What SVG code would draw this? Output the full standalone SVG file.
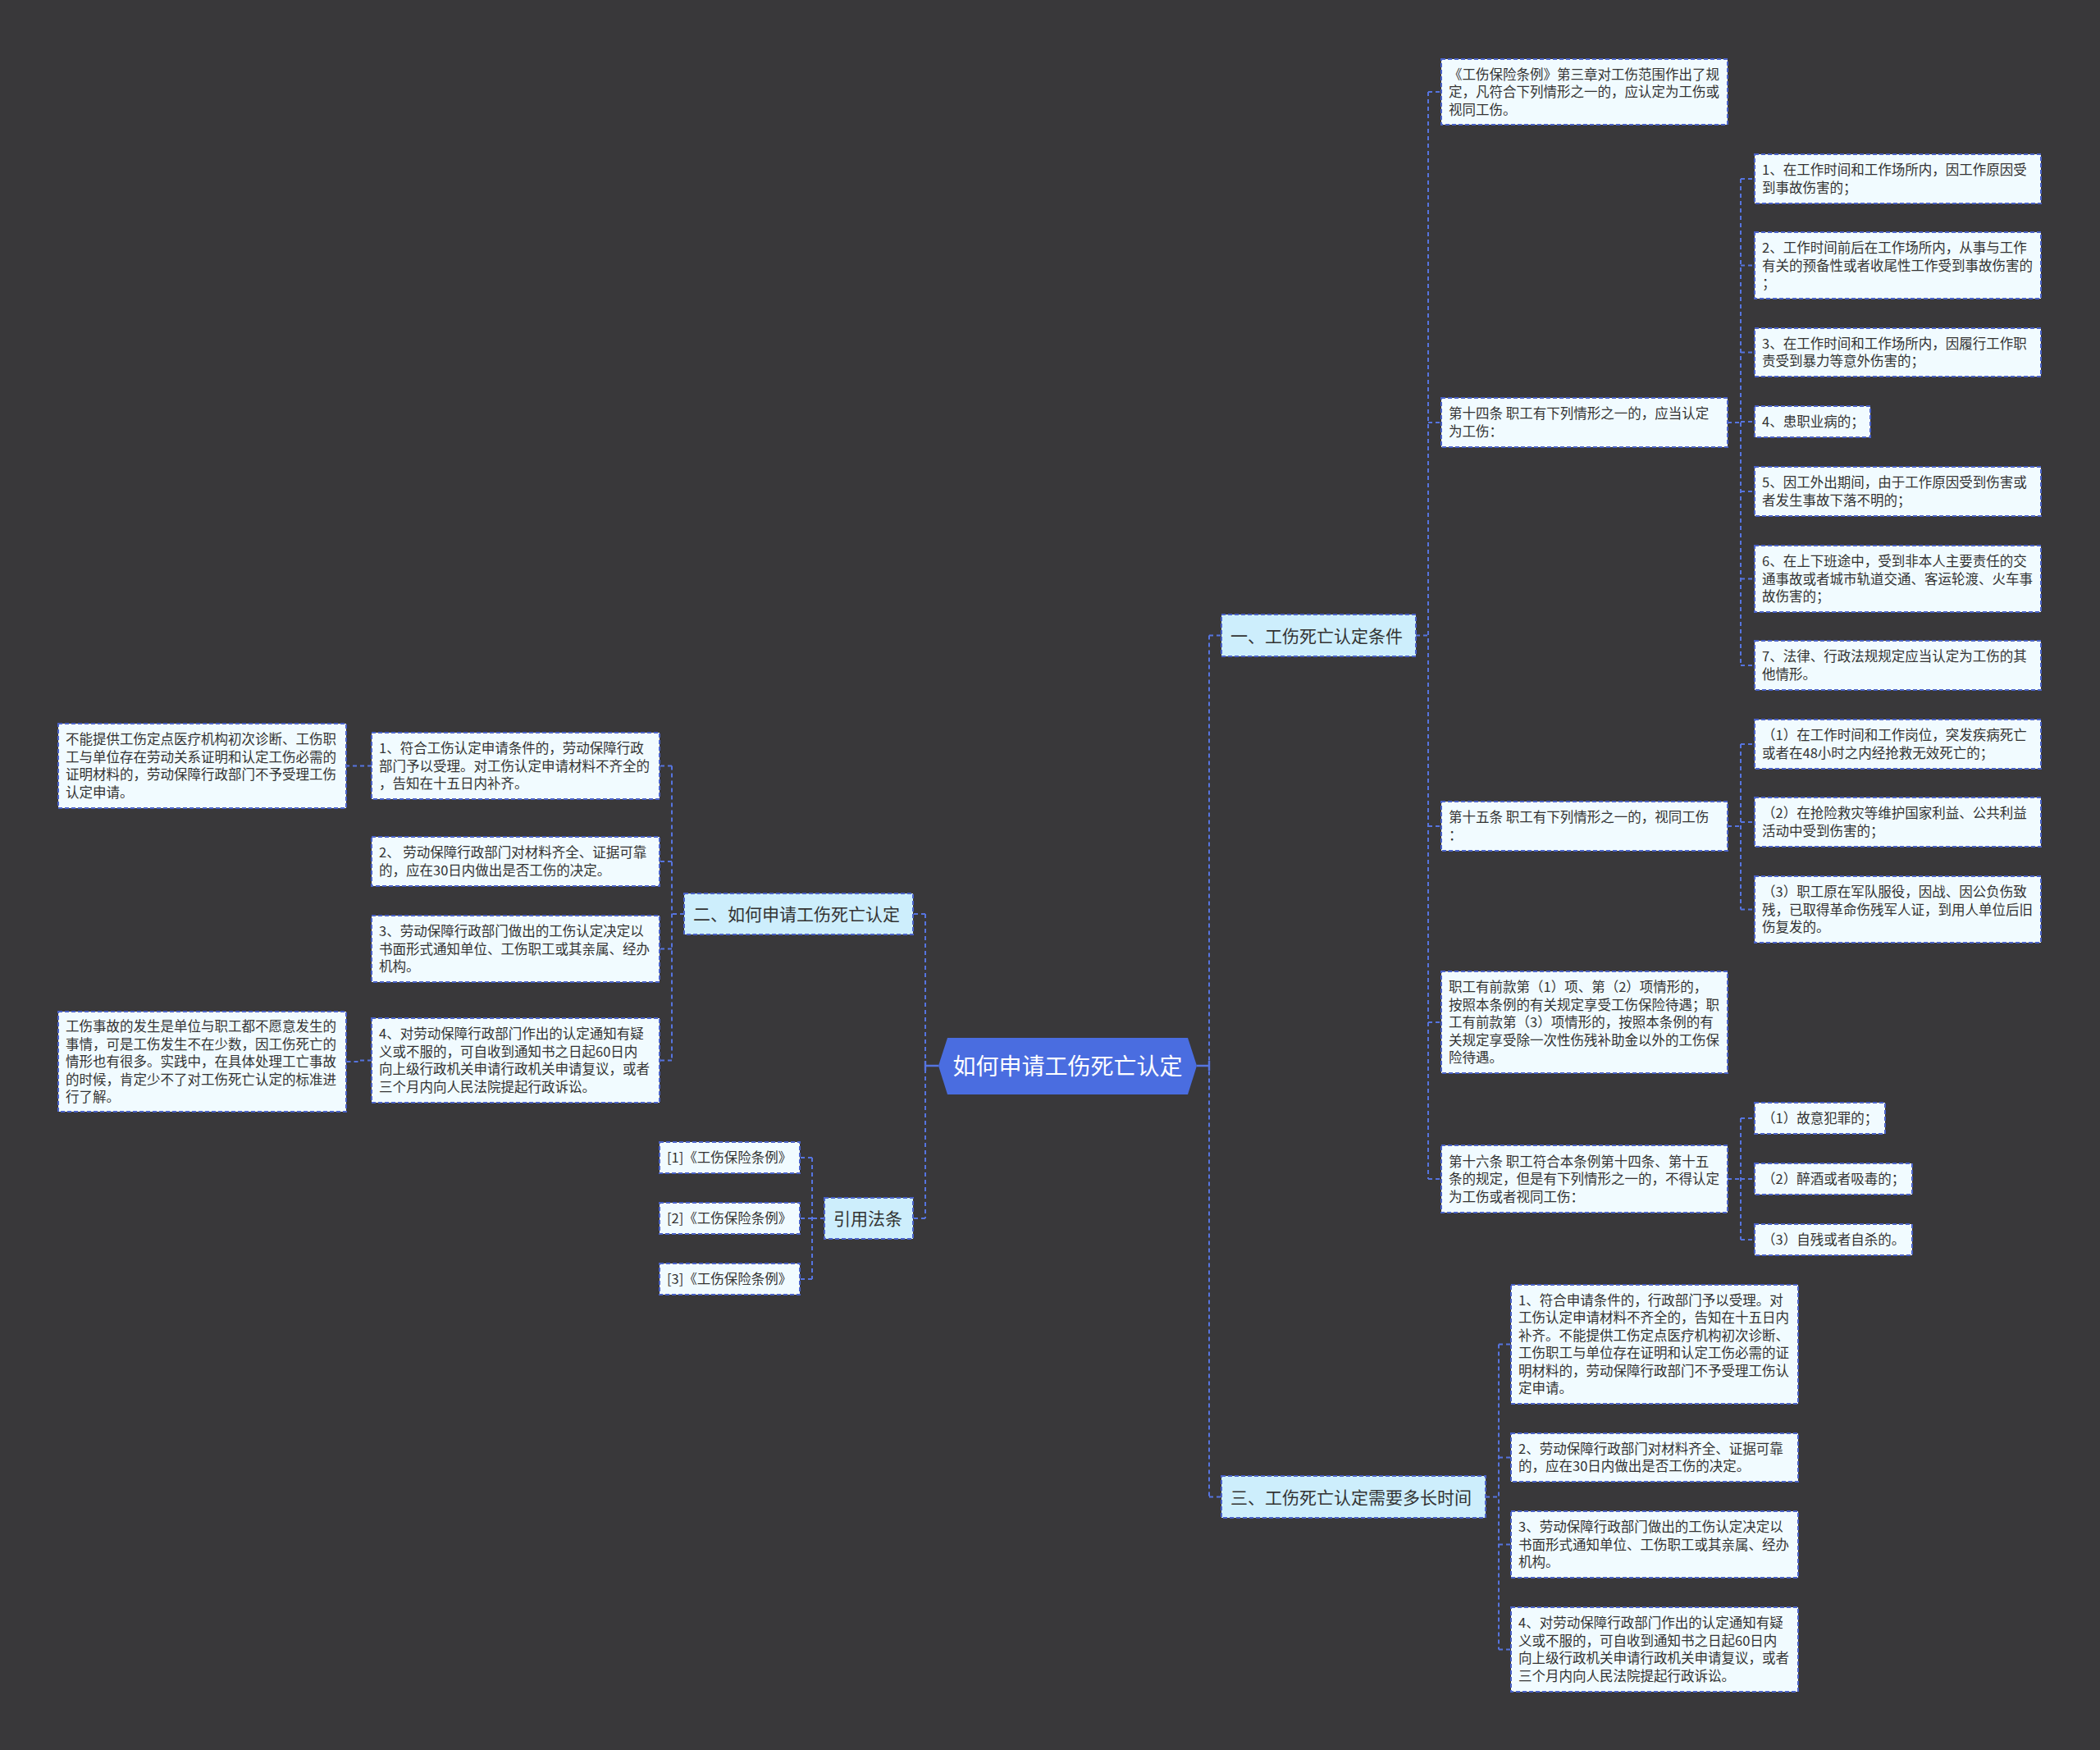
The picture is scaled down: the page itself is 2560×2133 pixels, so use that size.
<svg xmlns="http://www.w3.org/2000/svg" width="2560" height="2133" viewBox="0 0 2560 2133">
<style>
.bg{fill:#39383a}
.box{fill:#f1fbff;stroke:#4a62c8;stroke-width:2;stroke-dasharray:5 3}
.l1{fill:#cdeefc;stroke:#4a62c8;stroke-width:2;stroke-dasharray:5 3}
.root{fill:#4a6de0}
.t{font-family:"Noto Sans CJK SC","Noto Sans",sans-serif;font-size:16.5px;fill:#333}
.t1{font-family:"Noto Sans CJK SC","Noto Sans",sans-serif;font-size:21px;fill:#333}
.tr{font-family:"Noto Sans CJK SC","Noto Sans",sans-serif;font-size:28px;fill:#fff}
.ln{fill:none;stroke:#5674e0;stroke-width:2;stroke-dasharray:5 4}
.sl{fill:none;stroke:#5674e0;stroke-width:2.4}
</style>
<rect class="bg" x="0" y="0" width="2560" height="2133"/>

<g id="connectors">
  <path class="sl" d="M1459 1299 H1474 M1474 1293 V1305"/>
  <path class="sl" d="M1144 1299 H1128 M1128 1293 V1305"/>
  <path class="ln" d="M1474 774.5 V1824.5 M1474 774.5 H1489 M1474 1824.5 H1489"/>
  <path class="ln" d="M1128 1114 V1485 M1128 1114 H1113 M1128 1485 H1113"/>
  <path class="ln" d="M1726 774.5 H1741 M1741 112 V1437 M1741 112 H1757 M1741 515 H1757 M1741 1007 H1757 M1741 1246 H1757 M1741 1437 H1757"/>
  <path class="ln" d="M2106 515 H2122 M2122 218 V811 M2122 218 H2139 M2122 323.5 H2139 M2122 429.5 H2139 M2122 514 H2139 M2122 599 H2139 M2122 705.5 H2139 M2122 811 H2139"/>
  <path class="ln" d="M2106 1007 H2122 M2122 907 V1108.5 M2122 907 H2139 M2122 1002 H2139 M2122 1108.5 H2139"/>
  <path class="ln" d="M2106 1437 H2122 M2122 1363 V1511 M2122 1363 H2139 M2122 1437 H2139 M2122 1511 H2139"/>
  <path class="ln" d="M1811 1824.5 H1827 M1827 1638.5 V2010.5 M1827 1638.5 H1842 M1827 1776.5 H1842 M1827 1882.5 H1842 M1827 2010.5 H1842"/>
  <path class="ln" d="M834 1114 H819 M819 933.5 V1292.5 M819 933.5 H804 M819 1050 H804 M819 1156.5 H804 M819 1292.5 H804"/>
  <path class="ln" d="M453 933.5 H422"/>
  <path class="ln" d="M453 1292.5 H437 V1294 H422"/>
  <path class="ln" d="M1005 1485 H990 M990 1411 V1559 M990 1411 H975 M990 1485 H975 M990 1559 H975"/>
</g>

<g id="root">
  <polygon class="root" points="1144,1299 1155,1265 1448,1265 1459,1299 1448,1334 1155,1334"/>
  <text class="tr" x="1301.5" y="1309.5" text-anchor="middle">如何申请工伤死亡认定</text>
</g>

<g id="n1">
  <rect class="l1" x="1489" y="749" width="237" height="51"/>
  <text class="t1" x="1500" y="782.5">一、工伤死亡认定条件</text>
</g>
<g id="n2">
  <rect class="l1" x="834" y="1089" width="279" height="50"/>
  <text class="t1" x="845" y="1122">二、如何申请工伤死亡认定</text>
</g>
<g id="n3">
  <rect class="l1" x="1005" y="1460" width="108" height="50"/>
  <text class="t1" x="1016" y="1493">引用法条</text>
</g>
<g id="n4">
  <rect class="l1" x="1489" y="1799" width="322" height="51"/>
  <text class="t1" x="1500" y="1832.5">三、工伤死亡认定需要多长时间</text>
</g>

<g id="a0">
  <rect class="box" x="1757" y="72" width="349" height="80"/>
  <text class="t"><tspan x="1766" y="96.5">《工伤保险条例》第三章对工伤范围作出了规</tspan><tspan x="1766" y="118">定，凡符合下列情形之一的，应认定为工伤或</tspan><tspan x="1766" y="139.5">视同工伤。</tspan></text>
</g>
<g id="a14">
  <rect class="box" x="1757" y="485" width="349" height="60"/>
  <text class="t"><tspan x="1766" y="510.3">第十四条 职工有下列情形之一的，应当认定</tspan><tspan x="1766" y="531.8">为工伤：</tspan></text>
</g>
<g id="c1">
  <rect class="box" x="2139" y="188" width="349" height="60"/>
  <text class="t"><tspan x="2148" y="213.3">1、在工作时间和工作场所内，因工作原因受</tspan><tspan x="2148" y="234.8">到事故伤害的；</tspan></text>
</g>
<g id="c2">
  <rect class="box" x="2139" y="283" width="349" height="81"/>
  <text class="t"><tspan x="2148" y="308">2、工作时间前后在工作场所内，从事与工作</tspan><tspan x="2148" y="329.5">有关的预备性或者收尾性工作受到事故伤害的</tspan><tspan x="2148" y="351">；</tspan></text>
</g>
<g id="c3">
  <rect class="box" x="2139" y="400" width="349" height="59"/>
  <text class="t"><tspan x="2148" y="424.8">3、在工作时间和工作场所内，因履行工作职</tspan><tspan x="2148" y="446.3">责受到暴力等意外伤害的；</tspan></text>
</g>
<g id="c4">
  <rect class="box" x="2139" y="495" width="141" height="38"/>
  <text class="t"><tspan x="2148" y="520">4、患职业病的；</tspan></text>
</g>
<g id="c5">
  <rect class="box" x="2139" y="569" width="349" height="60"/>
  <text class="t"><tspan x="2148" y="594.3">5、因工外出期间，由于工作原因受到伤害或</tspan><tspan x="2148" y="615.8">者发生事故下落不明的；</tspan></text>
</g>
<g id="c6">
  <rect class="box" x="2139" y="665" width="349" height="81"/>
  <text class="t"><tspan x="2148" y="690">6、在上下班途中，受到非本人主要责任的交</tspan><tspan x="2148" y="711.5">通事故或者城市轨道交通、客运轮渡、火车事</tspan><tspan x="2148" y="733">故伤害的；</tspan></text>
</g>
<g id="c7">
  <rect class="box" x="2139" y="781" width="349" height="60"/>
  <text class="t"><tspan x="2148" y="806.3">7、法律、行政法规规定应当认定为工伤的其</tspan><tspan x="2148" y="827.8">他情形。</tspan></text>
</g>
<g id="a15">
  <rect class="box" x="1757" y="977" width="349" height="60"/>
  <text class="t"><tspan x="1766" y="1002.3">第十五条 职工有下列情形之一的，视同工伤</tspan><tspan x="1766" y="1023.8">：</tspan></text>
</g>
<g id="d1">
  <rect class="box" x="2139" y="877" width="349" height="60"/>
  <text class="t"><tspan x="2148" y="902.3">（1）在工作时间和工作岗位，突发疾病死亡</tspan><tspan x="2148" y="923.8">或者在48小时之内经抢救无效死亡的；</tspan></text>
</g>
<g id="d2">
  <rect class="box" x="2139" y="972" width="349" height="60"/>
  <text class="t"><tspan x="2148" y="997.3">（2）在抢险救灾等维护国家利益、公共利益</tspan><tspan x="2148" y="1018.8">活动中受到伤害的；</tspan></text>
</g>
<g id="d3">
  <rect class="box" x="2139" y="1068" width="349" height="81"/>
  <text class="t"><tspan x="2148" y="1093">（3）职工原在军队服役，因战、因公负伤致</tspan><tspan x="2148" y="1114.5">残，已取得革命伤残军人证，到用人单位后旧</tspan><tspan x="2148" y="1136">伤复发的。</tspan></text>
</g>
<g id="a15b">
  <rect class="box" x="1757" y="1184" width="349" height="124"/>
  <text class="t"><tspan x="1766" y="1209">职工有前款第（1）项、第（2）项情形的，</tspan><tspan x="1766" y="1230.5">按照本条例的有关规定享受工伤保险待遇；职</tspan><tspan x="1766" y="1252">工有前款第（3）项情形的，按照本条例的有</tspan><tspan x="1766" y="1273.5">关规定享受除一次性伤残补助金以外的工伤保</tspan><tspan x="1766" y="1295">险待遇。</tspan></text>
</g>
<g id="a16">
  <rect class="box" x="1757" y="1396" width="349" height="82"/>
  <text class="t"><tspan x="1766" y="1421.5">第十六条 职工符合本条例第十四条、第十五</tspan><tspan x="1766" y="1443">条的规定，但是有下列情形之一的，不得认定</tspan><tspan x="1766" y="1464.5">为工伤或者视同工伤：</tspan></text>
</g>
<g id="e1">
  <rect class="box" x="2139" y="1344" width="159" height="38"/>
  <text class="t"><tspan x="2148" y="1369">（1）故意犯罪的；</tspan></text>
</g>
<g id="e2">
  <rect class="box" x="2139" y="1418" width="192" height="38"/>
  <text class="t"><tspan x="2148" y="1443">（2）醉酒或者吸毒的；</tspan></text>
</g>
<g id="e3">
  <rect class="box" x="2139" y="1492" width="192" height="38"/>
  <text class="t"><tspan x="2148" y="1517">（3）自残或者自杀的。</tspan></text>
</g>

<g id="f1">
  <rect class="box" x="1842" y="1566" width="350" height="145"/>
  <text class="t"><tspan x="1851" y="1590.8">1、符合申请条件的，行政部门予以受理。对</tspan><tspan x="1851" y="1612.3">工伤认定申请材料不齐全的，告知在十五日内</tspan><tspan x="1851" y="1633.8">补齐。不能提供工伤定点医疗机构初次诊断、</tspan><tspan x="1851" y="1655.3">工伤职工与单位存在证明和认定工伤必需的证</tspan><tspan x="1851" y="1676.8">明材料的，劳动保障行政部门不予受理工伤认</tspan><tspan x="1851" y="1698.3">定申请。</tspan></text>
</g>
<g id="f2">
  <rect class="box" x="1842" y="1747" width="350" height="59"/>
  <text class="t"><tspan x="1851" y="1771.8">2、劳动保障行政部门对材料齐全、证据可靠</tspan><tspan x="1851" y="1793.3">的，应在30日内做出是否工伤的决定。</tspan></text>
</g>
<g id="f3">
  <rect class="box" x="1842" y="1842" width="350" height="81"/>
  <text class="t"><tspan x="1851" y="1867">3、劳动保障行政部门做出的工伤认定决定以</tspan><tspan x="1851" y="1888.5">书面形式通知单位、工伤职工或其亲属、经办</tspan><tspan x="1851" y="1910">机构。</tspan></text>
</g>
<g id="f4">
  <rect class="box" x="1842" y="1959" width="350" height="103"/>
  <text class="t"><tspan x="1851" y="1984.3">4、对劳动保障行政部门作出的认定通知有疑</tspan><tspan x="1851" y="2005.8">义或不服的，可自收到通知书之日起60日内</tspan><tspan x="1851" y="2027.3">向上级行政机关申请行政机关申请复议，或者</tspan><tspan x="1851" y="2048.8">三个月内向人民法院提起行政诉讼。</tspan></text>
</g>

<g id="b1">
  <rect class="box" x="453" y="893" width="351" height="81"/>
  <text class="t"><tspan x="462" y="918">1、符合工伤认定申请条件的，劳动保障行政</tspan><tspan x="462" y="939.5">部门予以受理。对工伤认定申请材料不齐全的</tspan><tspan x="462" y="961">，告知在十五日内补齐。</tspan></text>
</g>
<g id="b2">
  <rect class="box" x="453" y="1020" width="351" height="60"/>
  <text class="t"><tspan x="462" y="1045.3">2、 劳动保障行政部门对材料齐全、证据可靠</tspan><tspan x="462" y="1066.8">的，应在30日内做出是否工伤的决定。</tspan></text>
</g>
<g id="b3">
  <rect class="box" x="453" y="1116" width="351" height="81"/>
  <text class="t"><tspan x="462" y="1141">3、劳动保障行政部门做出的工伤认定决定以</tspan><tspan x="462" y="1162.5">书面形式通知单位、工伤职工或其亲属、经办</tspan><tspan x="462" y="1184">机构。</tspan></text>
</g>
<g id="b4">
  <rect class="box" x="453" y="1241" width="351" height="103"/>
  <text class="t"><tspan x="462" y="1266.3">4、对劳动保障行政部门作出的认定通知有疑</tspan><tspan x="462" y="1287.8">义或不服的，可自收到通知书之日起60日内</tspan><tspan x="462" y="1309.3">向上级行政机关申请行政机关申请复议，或者</tspan><tspan x="462" y="1330.8">三个月内向人民法院提起行政诉讼。</tspan></text>
</g>
<g id="g0">
  <rect class="box" x="71" y="882" width="351" height="103"/>
  <text class="t"><tspan x="80" y="907.3">不能提供工伤定点医疗机构初次诊断、工伤职</tspan><tspan x="80" y="928.8">工与单位存在劳动关系证明和认定工伤必需的</tspan><tspan x="80" y="950.3">证明材料的，劳动保障行政部门不予受理工伤</tspan><tspan x="80" y="971.8">认定申请。</tspan></text>
</g>
<g id="g1">
  <rect class="box" x="71" y="1233" width="351" height="122"/>
  <text class="t"><tspan x="80" y="1257">工伤事故的发生是单位与职工都不愿意发生的</tspan><tspan x="80" y="1278.5">事情，可是工伤发生不在少数，因工伤死亡的</tspan><tspan x="80" y="1300">情形也有很多。实践中，在具体处理工亡事故</tspan><tspan x="80" y="1321.5">的时候，肯定少不了对工伤死亡认定的标准进</tspan><tspan x="80" y="1343">行了解。</tspan></text>
</g>

<g id="r1">
  <rect class="box" x="804" y="1392" width="171" height="38"/>
  <text class="t"><tspan x="813" y="1417">[1]《工伤保险条例》</tspan></text>
</g>
<g id="r2">
  <rect class="box" x="804" y="1466" width="171" height="38"/>
  <text class="t"><tspan x="813" y="1491">[2]《工伤保险条例》</tspan></text>
</g>
<g id="r3">
  <rect class="box" x="804" y="1540" width="171" height="38"/>
  <text class="t"><tspan x="813" y="1565">[3]《工伤保险条例》</tspan></text>
</g>
</svg>
